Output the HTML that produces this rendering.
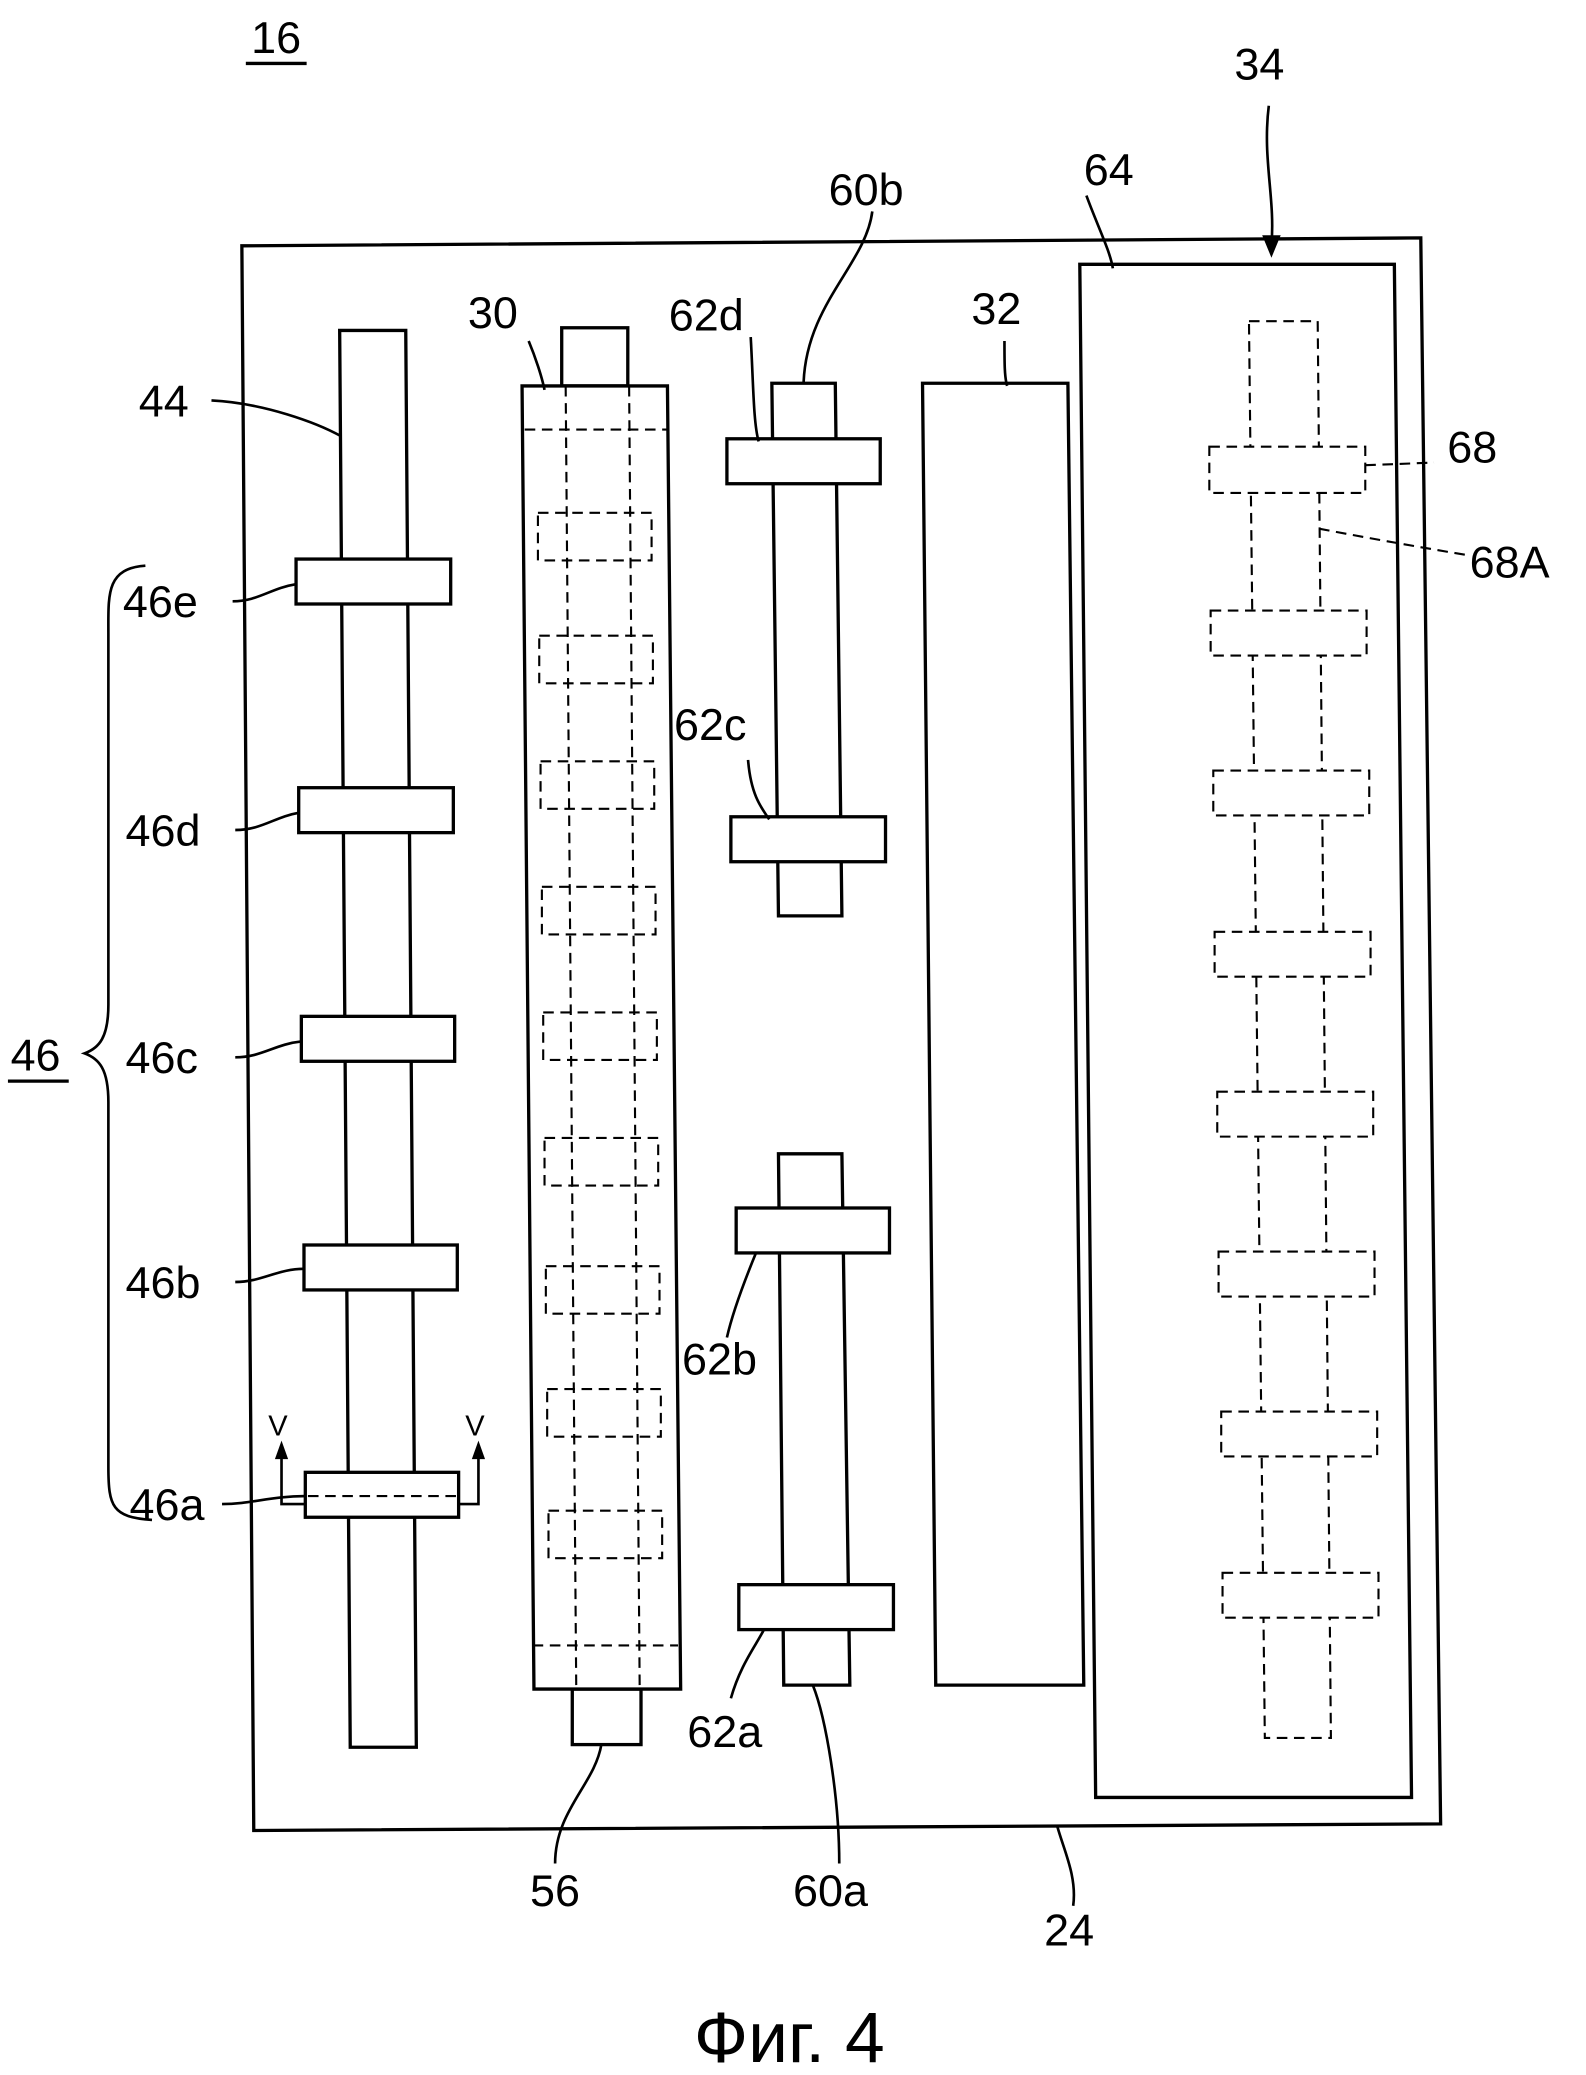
<!DOCTYPE html>
<html><head><meta charset="utf-8"><style>
html,body{margin:0;padding:0;background:#fff;}
svg{display:block;}
text{font-family:"Liberation Sans",sans-serif;fill:#000;}
</style></head><body>
<svg width="1586" height="2075" viewBox="0 0 1200 1570" xmlns="http://www.w3.org/2000/svg">
<g fill="#fff" stroke="#000" stroke-width="2.5">
<polygon points="183,186 1075,180 1090,1380 192,1385"/>
<polygon points="257,250 307,250 315,1322 265,1322"/>
<rect x="224" y="423" width="117" height="34"/>
<rect x="226" y="596" width="117" height="34"/>
<rect x="228" y="769" width="116" height="34"/>
<rect x="230" y="942" width="116" height="34"/>
<rect x="231" y="1114" width="116" height="34"/>
<rect x="425" y="248" width="50" height="44"/>
<rect x="433" y="1278" width="52" height="42"/>
<polygon points="395,292 505,292 515,1278 404,1278"/>
<polygon points="584,290 632,290 637,693 589,693"/>
<rect x="550" y="332" width="116" height="34"/>
<rect x="553" y="618" width="117" height="34"/>
<polygon points="589,873 637,873 643,1275 593,1275"/>
<rect x="557" y="914" width="116" height="34"/>
<rect x="559" y="1199" width="117" height="34"/>
<polygon points="698,290 808,290 820,1275 708,1275"/>
<polygon points="817,200 1055,200 1068,1360 829,1360"/>
</g>
<g fill="none" stroke="#000" stroke-width="1.6" stroke-dasharray="8,5">
<line x1="233" y1="1132" x2="345" y2="1132"/>
<line x1="397" y1="325" x2="505" y2="325"/>
<line x1="403" y1="1245" x2="513" y2="1245"/>
<line x1="428" y1="292" x2="436" y2="1278"/>
<line x1="476" y1="292" x2="484" y2="1278"/>
<rect x="407" y="388" width="86" height="36"/>
<rect x="408" y="481" width="86" height="36"/>
<rect x="409" y="576" width="86" height="36"/>
<rect x="410" y="671" width="86" height="36"/>
<rect x="411" y="766" width="86" height="36"/>
<rect x="412" y="861" width="86" height="36"/>
<rect x="413" y="958" width="86" height="36"/>
<rect x="414" y="1051" width="86" height="36"/>
<rect x="415" y="1143" width="86" height="36"/>
<polygon points="945,243 997,243 1007,1315 957,1315" fill="#fff"/>
<rect x="915" y="338" width="118" height="35" fill="#fff"/>
<rect x="916" y="462" width="118" height="34" fill="#fff"/>
<rect x="918" y="583" width="118" height="34" fill="#fff"/>
<rect x="919" y="705" width="118" height="34" fill="#fff"/>
<rect x="921" y="826" width="118" height="34" fill="#fff"/>
<rect x="922" y="947" width="118" height="34" fill="#fff"/>
<rect x="924" y="1068" width="118" height="34" fill="#fff"/>
<rect x="925" y="1190" width="118" height="34" fill="#fff"/>
<path d="M1033,352 L1085,350"/>
<path d="M998,400 C1040,408 1080,415 1110,420"/>
</g>
<g fill="none" stroke="#000" stroke-width="2">
<polyline points="231,1138 213,1138 213,1098"/>
<polyline points="347,1138 362,1138 362,1098"/>
</g>
<polygon points="213,1090 208,1104 218,1104" fill="#000"/>
<polygon points="362,1090 357,1104 367,1104" fill="#000"/>
<g fill="none" stroke="#000" stroke-width="2">
<path d="M160,303 C200,305 240,320 258,330"/>
<path d="M176,455 C195,455 205,445 224,442"/>
<path d="M178,628 C198,628 208,618 226,615"/>
<path d="M178,800 C198,800 208,790 228,788"/>
<path d="M178,970 C198,970 210,960 230,960"/>
<path d="M168,1138 C190,1138 205,1132 231,1132"/>
<path d="M568,255 C570,290 570,320 574,334"/>
<path d="M660,160 C655,200 610,230 608,290"/>
<path d="M566,575 C568,600 575,610 582,620"/>
<path d="M550,1012 C555,990 565,965 572,948"/>
<path d="M553,1285 C560,1260 572,1245 578,1233"/>
<path d="M420,1410 C420,1370 450,1350 455,1320"/>
<path d="M635,1410 C635,1360 625,1300 615,1275"/>
<path d="M812,1442 C815,1420 805,1400 800,1382"/>
<path d="M822,148 C830,170 840,190 842,203"/>
<path d="M400,258 C405,270 410,285 412,295"/>
<path d="M760,258 C760,275 760,285 762,292"/>
<path d="M960,80 C955,120 965,150 962,185"/>
<path d="M110,428 C80,430 82,450 82,480 L82,760 C82,785 75,793 64,797 C75,801 82,809 82,834 L82,1110 C82,1140 85,1148 115,1150"/>
</g>
<polygon points="962,195 955,178 969,178" fill="#000"/>
<g font-size="34">
<text x="190" y="40">16</text>
<line x1="186" y1="48" x2="232" y2="48" stroke="#000" stroke-width="2.5"/>
<text x="934" y="60">34</text>
<text x="820" y="140">64</text>
<text x="627" y="155">60b</text>
<text x="354" y="248">30</text>
<text x="506" y="250">62d</text>
<text x="735" y="245">32</text>
<text x="105" y="315">44</text>
<text x="1095" y="350">68</text>
<text x="1112" y="437">68A</text>
<text x="93" y="467">46e</text>
<text x="510" y="560">62c</text>
<text x="95" y="640">46d</text>
<text x="8" y="810">46</text>
<line x1="6" y1="818" x2="52" y2="818" stroke="#000" stroke-width="2.5"/>
<text x="95" y="812">46c</text>
<text x="95" y="982">46b</text>
<text x="516" y="1040">62b</text>
<text x="98" y="1150">46a</text>
<text x="520" y="1322">62a</text>
<text x="401" y="1442">56</text>
<text x="600" y="1442">60a</text>
<text x="790" y="1472">24</text>
</g>
<g font-size="22"><text x="203" y="1086">V</text><text x="352" y="1086">V</text></g>
<text x="525" y="1560" font-size="54">Фиг. 4</text>
</svg>
</body></html>
